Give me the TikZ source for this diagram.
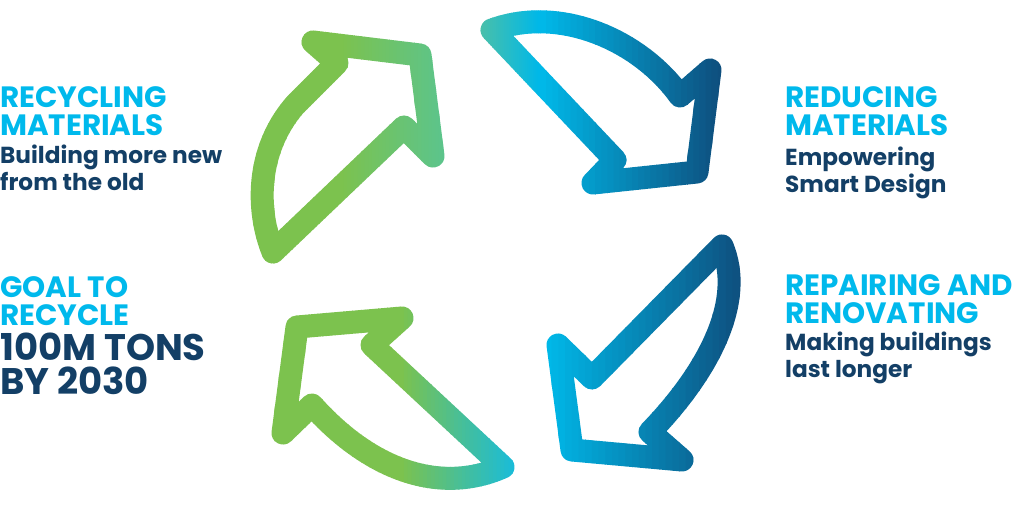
\documentclass[tikz,border=0pt]{standalone}
\usepackage{fontspec}
\setmainfont{Poppins}
\usetikzlibrary{positioning}

\definecolor{headblue}{HTML}{00B9EC}
\definecolor{subnavy}{HTML}{133F66}
\definecolor{leafgreen}{HTML}{7CC24E}
\definecolor{greenteal}{HTML}{5CC48C}
\definecolor{tailcyan}{HTML}{1ABCD8}
\definecolor{tealstart}{HTML}{4CC0A8}
\definecolor{loopcyan}{HTML}{00B8E8}
\definecolor{loopnavy}{HTML}{0E4F7E}

% arrow outlines (pixel grid, y down)
\newcommand\arrowup{(313,42) -- (420,55) -- (433,156) -- (404,127) -- (273,252)
  .. controls (256,210) and (256,150) .. (295,105) -- (337,63) -- cycle}
\newcommand\arrowright{(492,30) -- (615,160) -- (593,183) -- (697,172) -- (710,70) -- (680,96)
  .. controls (640,40) and (560,5) .. cycle}
\newcommand\arrowdown{(722,246) -- (592,378) -- (558,345) -- (572,450) -- (682,460) -- (650,432)
  .. controls (710,370) and (745,300) .. cycle}
\newcommand\arrowleft{(297,327) -- (402,318) -- (372,345) -- (503,467)
  .. controls (440,495) and (370,470) .. (312,405) -- (283,433) -- cycle}

% stroke a path in vertical bands from colour #4 (at x=#2) to colour #5 (at x=#3)
\newcommand\bandstroke[5]{%
  \foreach \k in {0,...,29}{
    \pgfmathsetmacro\xa{#2+(#3-#2)*\k/30}
    \pgfmathsetmacro\xb{#2+(#3-#2)*(\k+1)/30+0.6}
    \pgfmathtruncatemacro\pc{100-100*\k/29}
    \begin{scope}
      \clip (\xa,-5) rectangle (\xb,515);
      \draw[arrowline, draw=#4!\pc!#5] #1;
    \end{scope}
  }}

\tikzset{
  arrowline/.style={line width=23pt, line join=round, line cap=round},
  headtext/.style={anchor=base west, inner sep=0pt, align=left, text=headblue,
    font=\fontsize{29.4}{27.5}\selectfont\bfseries},
  subtext/.style={anchor=base west, inner sep=0pt, align=left, text=subnavy,
    font=\fontsize{23.2}{27}\selectfont\bfseries},
  bigtext/.style={anchor=base west, inner sep=0pt, align=left, text=subnavy,
    font=\fontsize{37}{34}\selectfont\bfseries}
}

\begin{document}
\begin{tikzpicture}[x=1pt, y=-1pt]
  \useasboundingbox (0,0) rectangle (1013,506);

  % the four arrows
  \bandstroke{\arrowup}{250}{340}{leafgreen}{leafgreen}
  \bandstroke{\arrowup}{340}{446}{leafgreen}{greenteal}
  \bandstroke{\arrowright}{478}{540}{tealstart}{loopcyan}
  \bandstroke{\arrowright}{540}{724}{loopcyan}{loopnavy}
  \bandstroke{\arrowdown}{545}{746}{loopcyan}{loopnavy}
  \bandstroke{\arrowleft}{270}{400}{leafgreen}{leafgreen}
  \bandstroke{\arrowleft}{400}{516}{leafgreen}{tailcyan}

  % texts (base anchor sits on the last line)
  \node[headtext] (recyclehead) at (0,135) {RECYCLING\\MATERIALS};
  \node[subtext] (recyclesub) at (0,190) {Building more new\\from the old};
  \node[headtext] (goalhead) at (0,325) {GOAL TO\\RECYCLE};
  \node[bigtext] (goalsub) at (0,394) {100M TONS\\BY 2030};
  \node[headtext] (reducehead) at (785,135) {REDUCING\\MATERIALS};
  \node[subtext] (reducesub) at (785,192) {Empowering\\Smart Design};
  \node[headtext] (repairhead) at (785,323) {REPAIRING AND\\RENOVATING};
  \node[subtext] (repairsub) at (785,377) {Making buildings\\last longer};
\end{tikzpicture}
\end{document}
